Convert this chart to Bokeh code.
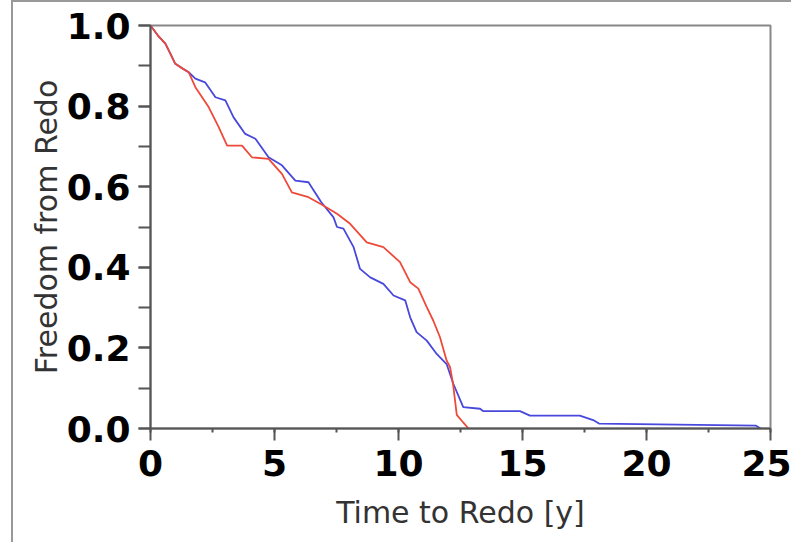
from bokeh.plotting import figure
from bokeh.models import Range1d, SingleIntervalTicker, PrintfTickFormatter
from bokeh.layouts import column
from bokeh.embed import file_html
from bokeh.resources import INLINE

# Red curve (Kaplan-Meier style)
red_t = [0, 0.3, 0.6, 0.8, 1.0, 1.3, 1.54, 1.81, 2.35, 2.75, 3.09, 3.69, 4.09, 4.76, 5.3, 5.7,
         6.37, 6.9, 7.52, 8.05, 8.72, 9.39, 10.06, 10.47, 10.8, 11.14, 11.4, 11.67, 11.94,
         12.08, 12.2, 12.35, 12.61, 12.82]
red_s = [1.0, 0.975, 0.955, 0.93, 0.905, 0.893, 0.884, 0.847, 0.797, 0.748, 0.702, 0.702, 0.673,
         0.669, 0.632, 0.586, 0.574, 0.556, 0.533, 0.508, 0.462, 0.450, 0.413, 0.363, 0.347,
         0.301, 0.268, 0.227, 0.169, 0.152, 0.11, 0.034, 0.015, 0.0]

# Blue curve
blue_t = [0, 0.3, 0.6, 0.8, 1.0, 1.3, 1.54, 1.81, 2.2, 2.62, 3.02, 3.35, 3.82, 4.23, 4.76, 5.3,
          5.84, 6.37, 6.88, 7.38, 7.52, 7.78, 8.19, 8.45, 8.86, 9.39, 9.8, 10.27, 10.47, 10.73,
          11.14, 11.54, 11.94, 12.21, 12.61, 13.29, 13.42, 14.9, 15.3, 17.31, 17.85, 18.1,
          24.42, 24.6]
blue_s = [1.0, 0.975, 0.955, 0.93, 0.905, 0.893, 0.884, 0.868, 0.859, 0.822, 0.814, 0.772, 0.731,
          0.719, 0.673, 0.653, 0.615, 0.611, 0.562, 0.524, 0.50, 0.496, 0.45, 0.396, 0.375,
          0.359, 0.33, 0.318, 0.276, 0.239, 0.218, 0.185, 0.16, 0.111, 0.053, 0.049, 0.043,
          0.043, 0.032, 0.032, 0.021, 0.012, 0.007, 0.0]

x_label = "Time to Redo [y]"
y_label = "Freedom from Redo"

p = figure(width=778, height=540, output_backend="svg", toolbar_location=None,
           x_range=Range1d(0, 25), y_range=Range1d(0, 1.0),
           min_border_left=137, min_border_right=21, min_border_top=23, min_border_bottom=114)

p.line(blue_t, blue_s, line_color="#4848dc", line_width=1.8)
p.line(red_t, red_s, line_color="#ee4a3a", line_width=1.8)

p.xgrid.visible = False
p.ygrid.visible = False
p.outline_line_color = "#888888"
p.outline_line_width = 2
p.background_fill_color = "white"
p.border_fill_color = "white"

p.xaxis.ticker = SingleIntervalTicker(interval=5, num_minor_ticks=2)
p.yaxis.ticker = SingleIntervalTicker(interval=0.2, num_minor_ticks=2)
p.yaxis.formatter = PrintfTickFormatter(format="%.1f")

for ax in (p.xaxis[0], p.yaxis[0]):
    ax.axis_line_color = "#555555"
    ax.axis_line_width = 2
    ax.major_tick_line_color = "#555555"
    ax.minor_tick_line_color = "#555555"
    ax.major_tick_line_width = 2
    ax.minor_tick_line_width = 2
    ax.major_tick_in = 0
    ax.minor_tick_in = 0
    ax.major_tick_out = 12
    ax.major_label_text_font = "DejaVu Sans"
    ax.major_label_text_font_style = "bold"
    ax.major_label_text_font_size = "36px"
    ax.major_label_text_color = "black"
    ax.axis_label_text_font = "DejaVu Sans"
    ax.axis_label_text_font_style = "normal"
    ax.axis_label_text_font_size = "30px"
    ax.axis_label_text_color = "#333333"

p.xaxis.minor_tick_out = 4
p.yaxis.minor_tick_out = 12
p.xaxis.major_label_standoff = 9
p.yaxis.major_label_standoff = 8
p.xaxis.axis_label_standoff = 16
p.yaxis.axis_label_standoff = 0
p.xaxis.axis_label = x_label
p.yaxis.axis_label = y_label

layout = column(p, styles={"margin-left": "11px",
                           "border-top": "2px solid #999999",
                           "border-left": "2px solid #999999"})

open("out.html", "w").write(file_html(layout, INLINE))
